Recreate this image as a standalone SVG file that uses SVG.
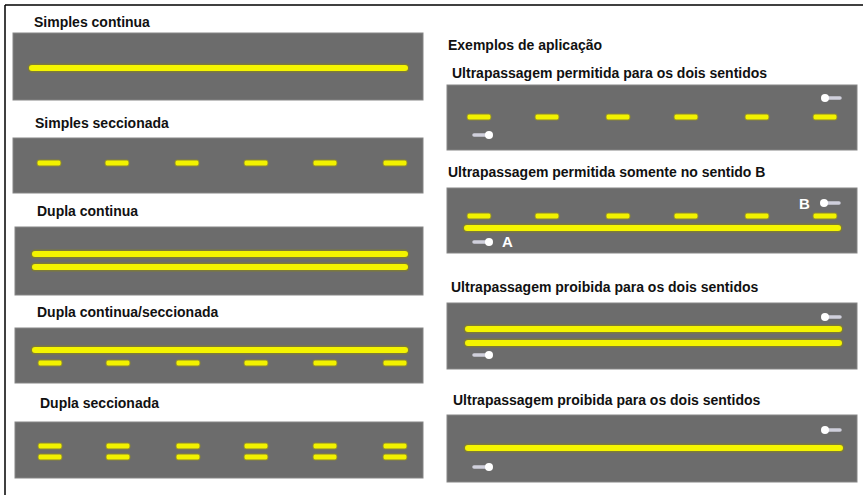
<svg xmlns="http://www.w3.org/2000/svg" width="863" height="495" viewBox="0 0 863 495">
<defs>
<style>
.t{font-family:"Liberation Sans",Arial,sans-serif;font-weight:bold;font-size:14px;fill:#111}
.road{fill:#6c6c6c;stroke:#858585;stroke-width:1}
.ln{stroke:#f4f400;stroke-width:6;stroke-linecap:round}
.halo{stroke:#7d7a3a;stroke-width:9;stroke-linecap:round}
.ds{fill:#f2f200;stroke:#8a8530;stroke-width:1}
.lab{font-family:"Liberation Sans",Arial,sans-serif;font-weight:bold;font-size:15px;fill:#fff}
</style>
<g id="dash"><rect x="-12" y="-3" width="24" height="6" rx="2" class="ds"/></g>
<g id="carR"><line x1="-11" y1="0" x2="2" y2="0" stroke="#d0d0dc" stroke-width="3.5" stroke-linecap="round"/><circle cx="4" cy="0" r="4" fill="#fff"/></g>
<g id="carL"><line x1="11" y1="0" x2="-2" y2="0" stroke="#d0d0dc" stroke-width="3.5" stroke-linecap="round"/><circle cx="-4" cy="0" r="4" fill="#fff"/></g>
</defs>
<rect width="863" height="495" fill="#fff"/>
<g id="frame" stroke="#000" stroke-width="1.5">
<line x1="5" y1="5" x2="863" y2="5"/>
<line x1="5" y1="5" x2="5" y2="495"/>
</g>

<g id="simples-continua">
<text class="t" x="34" y="27">Simples continua</text>
<rect class="road" x="13" y="33" width="410" height="67"/>
<line class="halo" x1="32" y1="68" x2="405" y2="68"/>
<line class="ln" x1="32" y1="68" x2="405" y2="68"/>
</g>

<g id="simples-seccionada">
<text class="t" x="35" y="128">Simples seccionada</text>
<rect class="road" x="13" y="138" width="410" height="55"/>
<use href="#dash" x="49" y="163"/><use href="#dash" x="117" y="163"/><use href="#dash" x="187" y="163"/>
<use href="#dash" x="256" y="163"/><use href="#dash" x="325" y="163"/><use href="#dash" x="395" y="163"/>
</g>

<g id="dupla-continua">
<text class="t" x="37" y="216">Dupla continua</text>
<rect class="road" x="15" y="227" width="408" height="68"/>
<line class="halo" x1="35" y1="254" x2="405" y2="254"/>
<line class="ln" x1="35" y1="254" x2="405" y2="254"/>
<line class="halo" x1="35" y1="267" x2="405" y2="267"/>
<line class="ln" x1="35" y1="267" x2="405" y2="267"/>
</g>

<g id="dupla-continua-seccionada">
<text class="t" x="37" y="317">Dupla continua/seccionada</text>
<rect class="road" x="15" y="328" width="408" height="55"/>
<line class="halo" x1="35" y1="350" x2="405" y2="350"/>
<line class="ln" x1="35" y1="350" x2="405" y2="350"/>
<use href="#dash" x="50" y="363"/><use href="#dash" x="118" y="363"/><use href="#dash" x="188" y="363"/>
<use href="#dash" x="256" y="363"/><use href="#dash" x="325" y="363"/><use href="#dash" x="395" y="363"/>
</g>

<g id="dupla-seccionada">
<text class="t" x="40" y="408">Dupla seccionada</text>
<rect class="road" x="15" y="422" width="408" height="56"/>
<use href="#dash" x="50" y="446"/><use href="#dash" x="118" y="446"/><use href="#dash" x="188" y="446"/>
<use href="#dash" x="256" y="446"/><use href="#dash" x="325" y="446"/><use href="#dash" x="395" y="446"/>
<use href="#dash" x="50" y="457"/><use href="#dash" x="118" y="457"/><use href="#dash" x="188" y="457"/>
<use href="#dash" x="256" y="457"/><use href="#dash" x="325" y="457"/><use href="#dash" x="395" y="457"/>
</g>

<g id="exemplos">
<text class="t" x="448" y="50">Exemplos de aplicação</text>
</g>

<g id="ex1">
<text class="t" x="452" y="78">Ultrapassagem permitida para os dois sentidos</text>
<rect class="road" x="447" y="85" width="410" height="65"/>
<use href="#dash" x="479" y="117"/><use href="#dash" x="547" y="117"/><use href="#dash" x="618" y="117"/>
<use href="#dash" x="686" y="117"/><use href="#dash" x="757" y="117"/><use href="#dash" x="825" y="117"/>
<use href="#carL" x="829" y="98"/>
<use href="#carR" x="485" y="135"/>
</g>

<g id="ex2">
<text class="t" x="448" y="177">Ultrapassagem permitida somente no sentido B</text>
<rect class="road" x="447" y="188" width="410" height="65"/>
<use href="#dash" x="479" y="216"/><use href="#dash" x="547" y="216"/><use href="#dash" x="618" y="216"/>
<use href="#dash" x="686" y="216"/><use href="#dash" x="757" y="216"/><use href="#dash" x="825" y="216"/>
<line class="halo" x1="467" y1="228" x2="838" y2="228"/>
<line class="ln" x1="467" y1="228" x2="838" y2="228"/>
<use href="#carL" x="828" y="203"/>
<use href="#carR" x="485" y="242"/>
<text class="lab" x="799" y="209">B</text>
<text class="lab" x="502" y="247">A</text>
</g>

<g id="ex3">
<text class="t" x="451" y="292">Ultrapassagem proibida para os dois sentidos</text>
<rect class="road" x="447" y="303" width="410" height="66"/>
<line class="halo" x1="468" y1="329" x2="839" y2="329"/>
<line class="ln" x1="468" y1="329" x2="839" y2="329"/>
<line class="halo" x1="468" y1="343" x2="839" y2="343"/>
<line class="ln" x1="468" y1="343" x2="839" y2="343"/>
<use href="#carL" x="829" y="317"/>
<use href="#carR" x="485" y="355"/>
</g>

<g id="ex4">
<text class="t" x="453" y="405">Ultrapassagem proibida para os dois sentidos</text>
<rect class="road" x="447" y="415" width="410" height="67"/>
<line class="halo" x1="468" y1="448" x2="840" y2="448"/>
<line class="ln" x1="468" y1="448" x2="840" y2="448"/>
<use href="#carL" x="829" y="430"/>
<use href="#carR" x="485" y="467"/>
</g>
</svg>
